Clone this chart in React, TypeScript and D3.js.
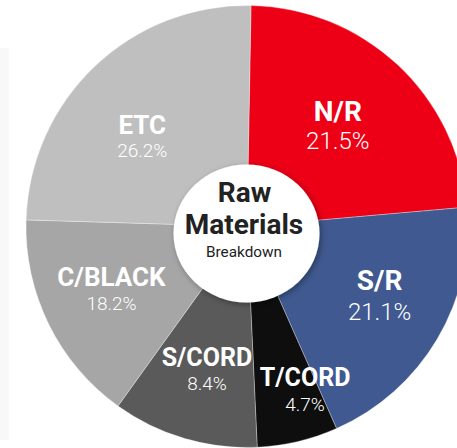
import React from "react";
import * as d3 from "d3";

// Slice names, printed percentages, and visual slice shares (as drawn in the reference)
const categories = ["N/R", "S/R", "T/CORD", "S/CORD", "C/BLACK", "ETC"];
const percentLabels = ["21.5%", "21.1%", "4.7%", "8.4%", "18.2%", "26.2%"];
const sliceShares = [23.3, 19.75, 5.9, 10.65, 15.55, 24.8];
const colors = ["#ed0016", "#405a91", "#0e0e0e", "#5a5a5a", "#a6a6a6", "#bfbfbf"];

const titleLines = ["Raw", "Materials"];
const subtitle = "Breakdown";

// label layout (styling): radius of name baseline, angle nudge in degrees, font sizes, gap
const labelLayout = [
  { r: 139, dA: -2.2, name: 28, pct: 24, gap: 28 },
  { r: 147, dA: -5, name: 28, pct: 24, gap: 30.5 },
  { r: 170, dA: -6.7, name: 25, pct: 19, gap: 24.4 },
  { r: 145, dA: -0.5, name: 25, pct: 19, gap: 24.4 },
  { r: 148, dA: 2.6, name: 26, pct: 19, gap: 23.7 },
  { r: 140, dA: -4.8, name: 26, pct: 19, gap: 23.7 },
];

const W = 457;
const H = 448;
const CX = 247;
const CY = 226.5;
const R = 221;
const START = (1.04 * Math.PI) / 180;

export default function App() {
  const pie = d3
    .pie<number>()
    .sort(null)
    .value((d) => d)
    .startAngle(START)
    .endAngle(START + 2 * Math.PI);
  const arcs = pie(sliceShares);
  const arc = d3.arc<d3.PieArcDatum<number>>().innerRadius(0).outerRadius(R);

  return (
    <svg
      width={W}
      height={H}
      style={{ position: "absolute", left: 0, top: 0, display: "block" }}
      fontFamily="Roboto, 'Noto Sans', sans-serif"
    >
      <defs>
        <filter id="sh" x="-20%" y="-20%" width="150%" height="150%">
          <feDropShadow dx="2" dy="2" stdDeviation="3" floodColor="#000" floodOpacity="0.35" />
        </filter>
      </defs>
      <rect x={0} y={0} width={W} height={H} fill="#ffffff" />
      <rect x={0} y={48} width={9} height={392} fill="#f8f8f8" />
      <g transform={`translate(${CX},${CY})`}>
        {arcs.map((a, i) => (
          <path
            key={categories[i]}
            d={arc(a) || ""}
            fill={colors[i]}
            stroke="#ffffff"
            strokeOpacity={0.45}
            strokeWidth={0.7}
          />
        ))}
        {arcs.map((a, i) => {
          const L = labelLayout[i];
          const mid = (a.startAngle + a.endAngle) / 2 + (L.dA * Math.PI) / 180;
          const x = L.r * Math.sin(mid);
          const y = -L.r * Math.cos(mid);
          return (
            <g key={"l" + i} fill="#ffffff" textAnchor="middle">
              <text x={x} y={y} fontSize={L.name} fontWeight={700}>
                {categories[i]}
              </text>
              <text x={x} y={y + L.gap} fontSize={L.pct} fontWeight={300}>
                {percentLabels[i]}
              </text>
            </g>
          );
        })}
      </g>
      <g>
        <ellipse cx={246.5} cy={233.5} rx={73} ry={69} fill="#ffffff" filter="url(#sh)" />
        <g textAnchor="middle" fill="#222222">
          <text x={244.5} y={201.5} fontSize={28} fontWeight={700}>
            {titleLines[0]}
          </text>
          <text x={244} y={234} fontSize={28} fontWeight={700}>
            {titleLines[1]}
          </text>
          <text x={244} y={256.5} fontSize={15.3} fontWeight={400}>
            {subtitle}
          </text>
        </g>
      </g>
    </svg>
  );
}
